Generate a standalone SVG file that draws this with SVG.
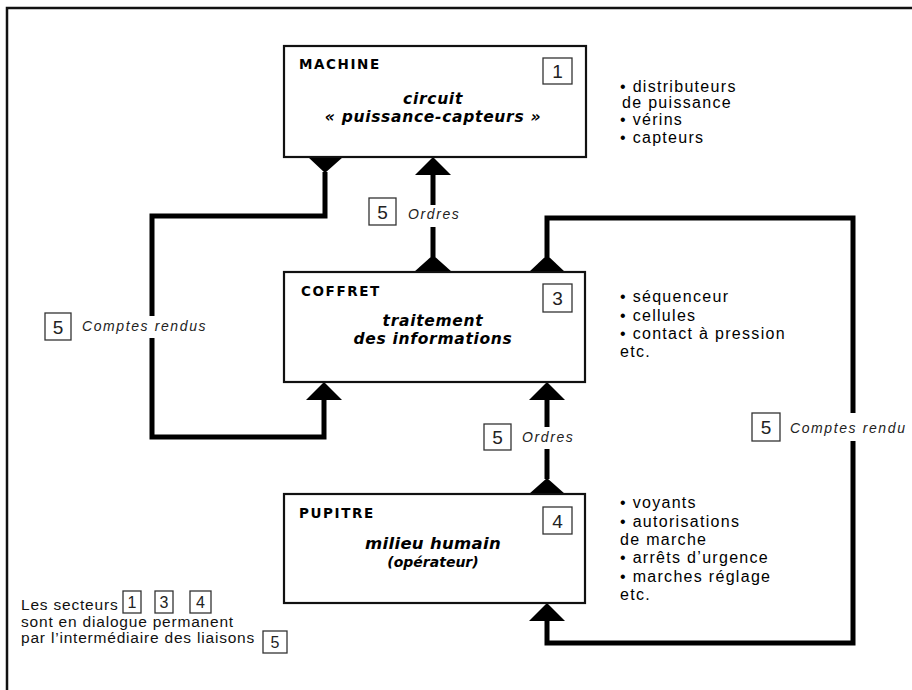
<svg xmlns="http://www.w3.org/2000/svg" width="912" height="690" viewBox="0 0 912 690">
<style>
.frame{fill:none;stroke:#111;stroke-width:2.5}
.box{fill:#fff;stroke:#111;stroke-width:2.2}
.nb{fill:none;stroke:#333;stroke-width:1.3}
.wire{fill:none;stroke:#000;stroke-width:5;stroke-linejoin:miter;stroke-linecap:butt}
.head{fill:#000}
.title{font-family:"DejaVu Sans",sans-serif;font-weight:bold;font-size:13.5px;letter-spacing:1.6px;fill:#000}
.sub{font-family:"DejaVu Sans",sans-serif;font-weight:bold;font-style:italic;font-size:15.5px;letter-spacing:0.7px;text-anchor:middle;fill:#000}
.num{font-family:"Liberation Sans",Arial,sans-serif;font-size:19px;text-anchor:middle;fill:#222}
.snum{font-family:"Liberation Sans",Arial,sans-serif;font-size:16px;text-anchor:middle;fill:#222}
.lbl{font-family:"Liberation Sans",Arial,sans-serif;font-style:italic;font-size:14px;letter-spacing:1.6px;fill:#222}
.list{font-family:"Liberation Sans",Arial,sans-serif;font-size:16px;letter-spacing:1.3px;fill:#000}
.note{font-family:"Liberation Sans",Arial,sans-serif;font-size:15.5px;letter-spacing:0.8px;fill:#111}
</style>
<rect width="912" height="690" fill="#fff"/>
<path class="frame" d="M7,690 V8 H912"/>

<g id="connectors">
  <!-- MACHINE -> COFFRET (comptes rendus, left) -->
  <polygon class="head" points="308,157 343,157 325,173"/>
  <path class="wire" d="M325,172 V216 H152 V316 M152,338 V437 H324 V399"/>
  <polygon class="head" points="324,382 306,400 342,400"/>
  <!-- COFFRET -> MACHINE (ordres) -->
  <polygon class="head" points="433,157 415,175 451,175"/>
  <path class="wire" d="M433,174 V205 M433,227 V257"/>
  <polygon class="head" points="433,255 414,272 452,272"/>
  <!-- COFFRET -> PUPITRE (comptes rendu, right loop) -->
  <polygon class="head" points="547,255 529,272 565,272"/>
  <path class="wire" d="M547,257 V218 H853 V413 M853,441 V643 H547 V620"/>
  <polygon class="head" points="547,603 529,621 565,621"/>
  <!-- PUPITRE -> COFFRET (ordres) -->
  <polygon class="head" points="547,382 529,400 565,400"/>
  <path class="wire" d="M547,399 V427 M547,449 V479"/>
  <polygon class="head" points="547,478 529,494 565,494"/>
</g>

<g id="label-ordres-1">
  <rect class="nb" x="369" y="198" width="27" height="27"/>
  <text class="num" x="382.5" y="218.5">5</text>
  <text class="lbl" x="408" y="219">Ordres</text>
</g>
<g id="label-ordres-2">
  <rect class="nb" x="484" y="424" width="27" height="26"/>
  <text class="num" x="497.5" y="444">5</text>
  <text class="lbl" x="522" y="442">Ordres</text>
</g>
<g id="label-comptes-1">
  <rect class="nb" x="45" y="313" width="26" height="27"/>
  <text class="num" x="58" y="333.5">5</text>
  <text class="lbl" x="82" y="331">Comptes rendus</text>
</g>
<g id="label-comptes-2">
  <rect class="nb" x="752" y="413" width="28" height="28"/>
  <text class="num" x="766" y="434">5</text>
  <text class="lbl" x="790" y="433">Comptes rendu</text>
</g>

<g id="machine">
  <rect class="box" x="284" y="46" width="302" height="111"/>
  <text class="title" x="299" y="69">MACHINE</text>
  <rect class="nb" x="543" y="58" width="29" height="26"/>
  <text class="num" x="557.5" y="78">1</text>
  <text class="sub" x="433" y="104">circuit</text>
  <text class="sub" x="433" y="122">« puissance-capteurs »</text>
</g>

<g id="coffret">
  <rect class="box" x="284" y="272" width="301" height="110"/>
  <text class="title" x="301" y="296">COFFRET</text>
  <rect class="nb" x="543" y="284" width="29" height="28"/>
  <text class="num" x="557.5" y="305">3</text>
  <text class="sub" x="433" y="326">traitement</text>
  <text class="sub" x="433" y="344">des informations</text>
</g>

<g id="pupitre">
  <rect class="box" x="284" y="494" width="301" height="109"/>
  <text class="title" x="299" y="518">PUPITRE</text>
  <rect class="nb" x="543" y="507" width="29" height="27"/>
  <text class="num" x="557.5" y="527.5">4</text>
  <text class="sub" x="433" y="549" style="font-size:16.5px;letter-spacing:0.3px">milieu humain</text>
  <text class="sub" x="433" y="567" style="font-size:14px;letter-spacing:0">(opérateur)</text>
</g>

<g id="list-machine">
  <text class="list" x="620" y="92">• distributeurs</text>
  <text class="list" x="622" y="108">de puissance</text>
  <text class="list" x="620" y="125">• vérins</text>
  <text class="list" x="620" y="143">• capteurs</text>
</g>
<g id="list-coffret">
  <text class="list" x="620" y="302">• séquenceur</text>
  <text class="list" x="620" y="321">• cellules</text>
  <text class="list" x="620" y="339">• contact à pression</text>
  <text class="list" x="620" y="357">etc.</text>
</g>
<g id="list-pupitre">
  <text class="list" x="620" y="508">• voyants</text>
  <text class="list" x="620" y="527">• autorisations</text>
  <text class="list" x="620" y="545">de marche</text>
  <text class="list" x="620" y="563">• arrêts d’urgence</text>
  <text class="list" x="620" y="582">• marches réglage</text>
  <text class="list" x="620" y="600">etc.</text>
</g>

<g id="note">
  <text class="note" x="21" y="610">Les secteurs</text>
  <rect class="nb" x="123" y="591" width="18" height="22"/>
  <text class="snum" x="132" y="608">1</text>
  <rect class="nb" x="155" y="591" width="18" height="22"/>
  <text class="snum" x="164" y="608">3</text>
  <rect class="nb" x="190" y="591" width="21" height="22"/>
  <text class="snum" x="200.5" y="608">4</text>
  <text class="note" x="21" y="627">sont en dialogue permanent</text>
  <text class="note" x="21" y="643">par l’intermédiaire des liaisons</text>
  <rect class="nb" x="263" y="631" width="24" height="22"/>
  <text class="snum" x="275" y="648">5</text>
</g>
</svg>
